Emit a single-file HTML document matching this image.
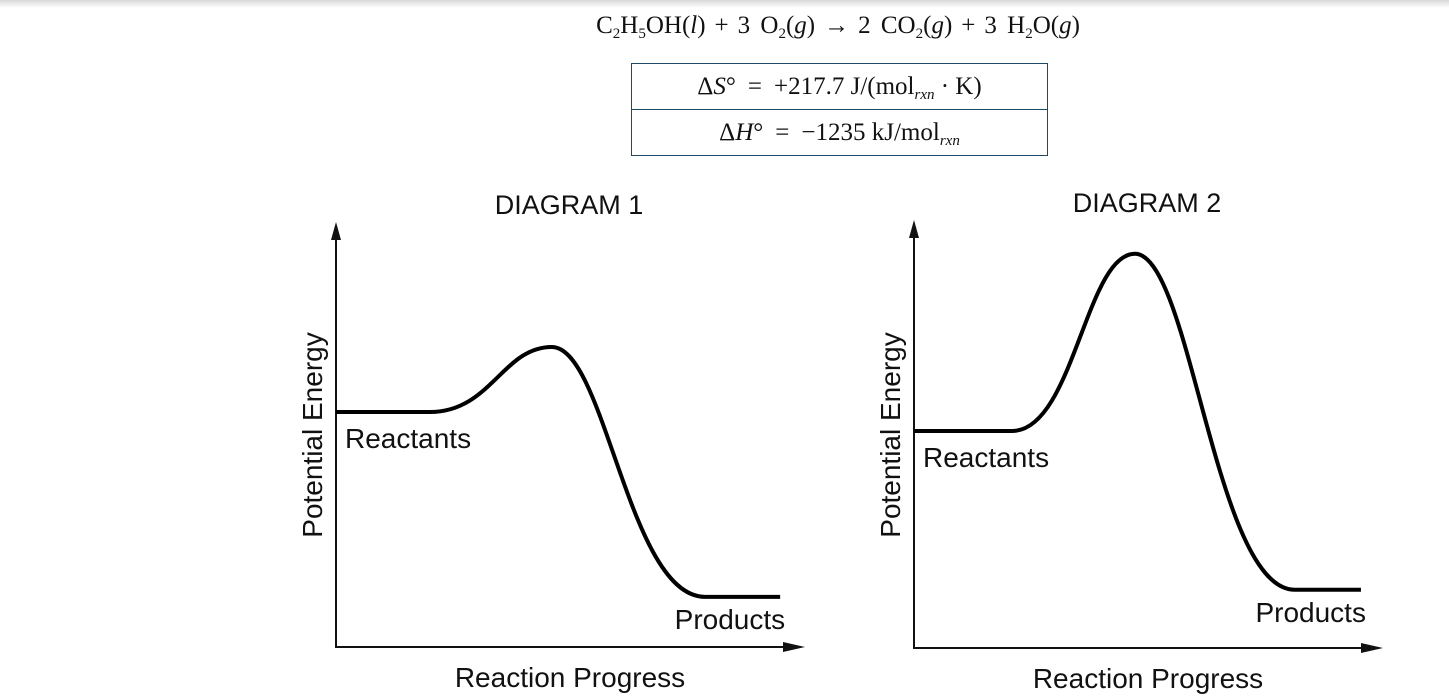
<!DOCTYPE html>
<html><head><meta charset="utf-8"><style>
body{margin:0;background:#fff;width:1449px;height:700px;overflow:hidden;position:relative;font-family:"Liberation Sans",sans-serif}
.shadow{position:absolute;left:0;top:0;width:1449px;height:8px;background:linear-gradient(#d8d8d8,#fff)}
.eq{position:absolute;left:838px;transform:translateX(-50%);white-space:nowrap;top:12px;font-family:"Liberation Serif",serif;font-size:25px;color:#111;word-spacing:4px}
.op{margin:0 9px}
.tbl{position:absolute;left:631px;top:63px;width:415px;border:1px solid #1e4a6a;font-family:"Liberation Serif",serif;font-size:25px;color:#111}
.tbl div{height:45px;line-height:45px;text-align:center}
.tbl div+div{border-top:1px solid #1e4a6a}
.tbl .op{margin:0 12px}
sub{font-size:15px;vertical-align:-5px}
</style></head><body>
<div class="shadow"></div>
<div class="eq">C<sub>2</sub>H<sub>5</sub>OH(<i>l</i>)<span class="op">+</span>3 O<sub>2</sub>(<i>g</i>)<span class="op">→</span>2 CO<sub>2</sub>(<i>g</i>)<span class="op">+</span>3 H<sub>2</sub>O(<i>g</i>)</div>
<div class="tbl">
<div>Δ<i>S</i>°<span class="op">=</span>+217.7 J/(mol<sub><i>rxn</i></sub> · K)</div>
<div>Δ<i>H</i>°<span class="op">=</span>−1235 kJ/mol<sub><i>rxn</i></sub></div>
</div>
<svg id="svg" width="1449" height="700" style="position:absolute;left:0;top:0"></svg>
<script>
// Diagram key values: progress (0-100) and energy (0-100)
const diagramTitles = ["DIAGRAM 1", "DIAGRAM 2"];
const reactantEnergy = [55.3, 50.7];
const peakEnergy = [70.6, 92.1];
const productEnergy = [11.8, 13.6];
const reactantEndProgress = [20, 20.9];
const peakProgress = [46, 47.1];
const productStartProgress = [78.7, 81.2];
const productEndProgress = [94.7, 95.3];

const frames = [{x0:336,y0:647,w:469,top:222},{x0:914,y0:648,w:469,top:220}];
const svg = document.getElementById('svg');
const NS = 'http://www.w3.org/2000/svg';
function mk(tag, attrs){const e=document.createElementNS(NS,tag);for(const k in attrs)e.setAttribute(k,attrs[k]);svg.appendChild(e);return e;}
function txt(s,attrs){const e=mk('text',Object.assign({'font-family':'Liberation Sans, sans-serif',fill:'#111'},attrs));e.textContent=s;return e;}

diagramTitles.forEach((title,i)=>{
  const f=frames[i];
  const sx=p=>f.x0+p/100*f.w;
  const sy=v=>f.y0-v/100*(f.y0-f.top);
  const ax=mk('path',{d:`M${f.x0} ${f.top+14} L${f.x0} ${f.y0} L${f.x0+f.w-14} ${f.y0}`,stroke:'#111','stroke-width':2,fill:'none'});
  
  
  const ay=mk('path',{d:`M${f.x0} ${f.top} L${f.x0-5} ${f.top+18} L${f.x0+5} ${f.top+18} Z`,fill:'#111'});
  
  
  const axr=mk('path',{d:`M${f.x0+f.w} ${f.y0} L${f.x0+f.w-22} ${f.y0-5} L${f.x0+f.w-22} ${f.y0+5} Z`,fill:'#111'});
  
  
  const xr=sx(0),yr=sy(reactantEnergy[i]),x1=sx(reactantEndProgress[i]);
  const xp=sx(peakProgress[i]),yp=sy(peakEnergy[i]);
  const x2=sx(productStartProgress[i]),yd=sy(productEnergy[i]),x3=sx(productEndProgress[i]);
  const k1=(xp-x1)*0.5,k2=(x2-xp)*0.5;
  const d=`M${xr} ${yr} L${x1} ${yr} C${x1+k1} ${yr} ${xp-k1*0.8} ${yp} ${xp} ${yp} C${xp+k2*0.7} ${yp} ${x2-k2} ${yd} ${x2} ${yd} L${x3} ${yd}`;
  const c=mk('path',{d:d,stroke:'#000','stroke-width':4,fill:'none','stroke-linejoin':'round'});
  
  
  const t=txt(title,{x:f.x0+233,y:f.top-8,'font-size':27,'text-anchor':'middle'});
  
  
  const r=txt('Reactants',{x:f.x0+9,y:yr+36,'font-size':28});
  
  
  const p=txt('Products',{x:x3+5,y:yd+32,'font-size':28,'text-anchor':'end'});
  
  
  const xl=txt('Reaction Progress',{x:f.x0+234,y:f.y0+40,'font-size':28,'text-anchor':'middle'});
  
  
  const yl=txt('Potential Energy',{x:0,y:0,'font-size':28,'text-anchor':'middle',transform:`translate(${f.x0-14},435) rotate(-90)`});
  
  
});
</script>
</body></html>
